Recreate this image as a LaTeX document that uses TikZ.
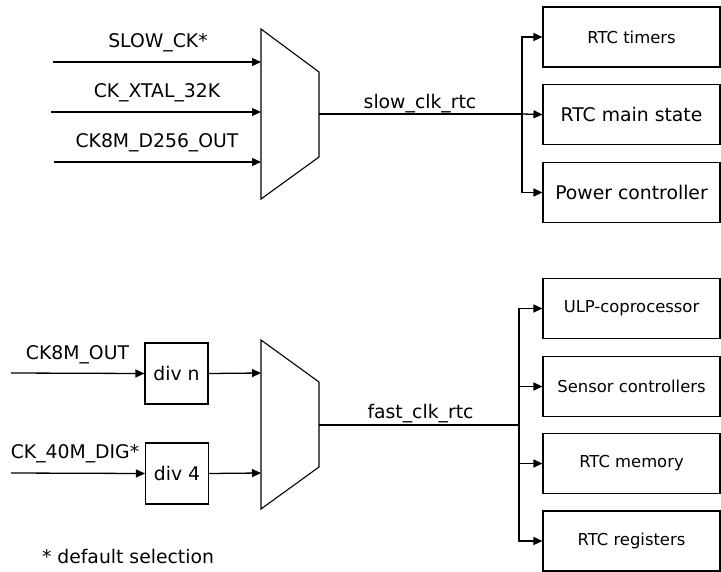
\documentclass[tikz,border=0pt]{standalone}
\usepackage{fontspec}
\setmainfont{DejaVu Sans}
\usetikzlibrary{arrows.meta}
\begin{document}
\begin{tikzpicture}[x=1pt,y=-1pt,
  line width=1.3pt,
  arr/.style={-{Triangle[length=9pt,width=8pt]}},
  big/.style={font=\fontsize{18.8}{22}\selectfont},
  small/.style={font=\fontsize{16.4}{20}\selectfont},
  blk/.style={draw,line width=1.1pt,minimum width=177pt,minimum height=60pt,inner sep=0pt},
  divbox/.style={draw,line width=1.1pt,minimum width=63pt,minimum height=61pt,inner sep=0pt,big},
  lbl/.style={anchor=base,inner sep=0pt,big}]
\useasboundingbox (0,0) rectangle (721,571);
% ---------- upper (slow clock) ----------
\draw[line width=1.1pt] (261,29) -- (319,72) -- (319,157) -- (261,199) -- cycle;
\coordinate (m1i1) at (261,62);
\coordinate (m1i2) at (261,112);
\coordinate (m1i3) at (261,162);
\coordinate (m1o) at (319,114);
\coordinate (s1) at (53,62);
\coordinate (s2) at (51,112);
\coordinate (s3) at (54,162);
\node[lbl] (ls1) at (158,47) {SLOW\_CK*};
\node[lbl] (ls2) at (157,97) {CK\_XTAL\_32K};
\node[lbl] (ls3) at (157,147) {CK8M\_D256\_OUT};
\draw[arr] (s1) -- (m1i1);
\draw[arr] (s2) -- (m1i2);
\draw[arr] (s3) -- (m1i3);
\node[blk,small] (t1) at (631.5,37) {RTC timers};
\node[blk,big] (t2) at (631.5,114.5) {RTC main state};
\node[blk,big] (t3) at (631.5,192.5) {Power controller};
\coordinate (b1) at (522,114);
\draw (m1o) -- (b1);
\draw[arr] (b1) -- (t2.west);
\draw[arr] (b1) |- (t1.west);
\draw[arr] (b1) |- (t3.west);
\node[lbl] (lslow) at (420,108) {slow\_clk\_rtc};
% ---------- lower (fast clock) ----------
\draw[line width=1.1pt] (261,340) -- (319,382) -- (319,467) -- (261,509) -- cycle;
\coordinate (m2i1) at (261,373);
\coordinate (m2i2) at (261,473);
\coordinate (m2o) at (319,425);
\node[divbox] (dn) at (176.5,373.5) {div n};
\node[divbox] (d4) at (177,473.5) {div 4};
\coordinate (f1) at (11,373);
\coordinate (f2) at (11,473);
\node[lbl] (lf1) at (77.5,359) {CK8M\_OUT};
\node[lbl] (lf2) at (75,458) {CK\_40M\_DIG*};
\draw[arr] (f1) -- (dn.west);
\draw[arr] (f2) -- (d4.west);
\draw[arr] (dn.east) -- (m2i1);
\draw[arr] (d4.east) -- (m2i2);
\node[blk,small] (u1) at (631.5,308.5) {ULP-coprocessor};
\node[blk,small] (u2) at (631.5,386.5) {Sensor controllers};
\node[blk,small] (u3) at (631.5,463.5) {RTC memory};
\node[blk,small] (u4) at (631.5,541) {RTC registers};
\coordinate (b2) at (519,425);
\draw[line width=1.6pt] (m2o) -- (b2);
\draw[arr] (b2) |- (u1.west);
\draw[arr] (b2) |- (u2.west);
\draw[arr] (b2) |- (u3.west);
\draw[arr] (b2) |- (u4.west);
\node[lbl] (lfast) at (420.5,418) {fast\_clk\_rtc};
\node[lbl] (ldef) at (128,563) {* default selection};
\end{tikzpicture}
\end{document}
